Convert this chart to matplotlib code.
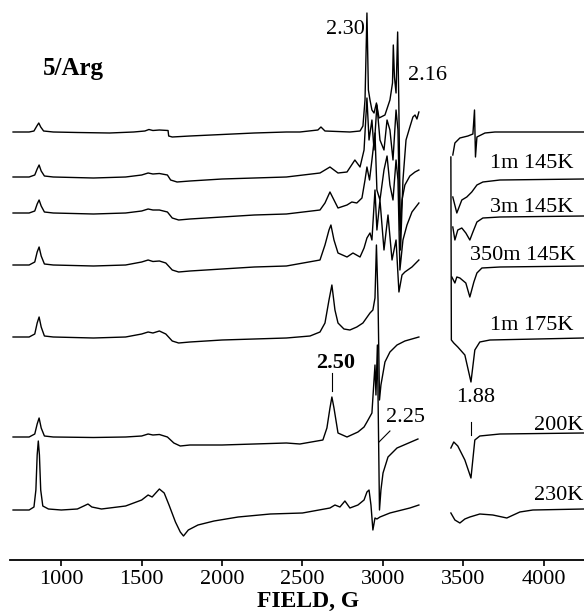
import numpy as np
import matplotlib
matplotlib.use("Agg")
import matplotlib.pyplot as plt

plt.rcParams['font.family'] = ['Liberation Serif', 'DejaVu Serif']

# EPR spectra of 5/Arg, field in G, intensity in arbitrary units (stacked)
labels = ['', '1m 145K', '3m 145K', '350m 145K', '1m 175K', '200K', '230K']
offsets = [428, 383, 347, 295, 223, 123, 50]

field_1 = [700, 800, 830, 848, 860, 872, 890, 950, 1100, 1300, 1450, 1520, 1545, 1570, 1610, 1664, 1668, 1690, 1800, 2000, 2200, 2400,
           2484, 2596, 2615, 2640, 2795, 2858, 2876, 2889, 2901, 2910, 2920, 2932, 2945, 2960, 2976, 3013, 3044, 3060, 3065, 3072, 3082,
           3092, 3099, 3110, 3125, 3144, 3168, 3187, 3200, 3212, 3224,
           3435, 3448, 3479, 3529, 3560, 3570, 3576, 3585, 3635, 3697, 4250]
inten_1 = [0, 0, 1, 6, 9, 5, 1, 0, -0.5, -1, 0, 1, 2.5, 1.5, 2, 1.5, -4, -5, -4, -2.5, -1, 0,
           0, 2, 5, 1, 0, 1, 6, 32, 119, 42, 32, 22, 19, 29, 14, 17, 32, 49, 87, 55, 39,
           100, 32, -118, -48, -8, 5, 15, 17, 13, 20,
           -23, -11, -6, -4, -2, 22, -25, -5, -1, 0, 0]

field_2 = [700, 800, 835, 850, 862, 875, 895, 950, 1200, 1400, 1500, 1540, 1570, 1610, 1660, 1680, 1720, 1800, 2000, 2200, 2400,
           2609, 2671, 2721, 2777, 2826, 2858, 2883, 2901, 2914, 2932, 2945, 2963, 2982, 3007, 3026, 3044, 3063, 3082, 3094,
           3106, 3119, 3137, 3168, 3200, 3224,
           3435, 3460, 3491, 3522, 3553, 3585, 3622, 3728, 4250]
inten_2 = [0, 0, 2, 8, 12, 6, 1, 0, -1, 0, 2, 4, 3, 3.5, 2, -3, -5, -4, -2, -1, 0,
           4, 10, 4, 5, 17, 10, 27, 79, 37, 57, 27, 72, 37, 27, 57, 47, 17, 67, 47,
           -53, -23, -8, 1, 5, 7,
           -20, -36, -23, -20, -15, -8, -5, -3, -2]

field_3 = [700, 800, 835, 850, 862, 875, 895, 950, 1200, 1400, 1500, 1540, 1570, 1610, 1660, 1690, 1730, 1800, 2000, 2200, 2400,
           2609, 2640, 2671, 2696, 2721, 2777, 2807, 2838, 2870, 2889, 2901, 2917, 2932, 2951, 2963, 2982, 3007, 3026, 3044,
           3063, 3082, 3094, 3106, 3125, 3150, 3181, 3224,
           3435, 3448, 3466, 3491, 3516, 3541, 3560, 3585, 3622, 3728, 4250]
inten_3 = [0, 0, 2, 9, 13, 7, 1, 0, -1, 0, 2, 4, 3, 3, 1, -5, -7, -6, -4, -2, -1,
           3, 10, 21, 13, 5, 8, 11, 10, 15, 33, 46, 33, 53, 80, 23, 13, 43, 57, 28,
           13, 53, 33, -57, -27, -12, 1, 10,
           -14, -27, -17, -15, -20, -27, -19, -9, -5, -4, -3]

field_4 = [700, 800, 835, 850, 862, 875, 895, 950, 1200, 1400, 1500, 1540, 1570, 1610, 1650, 1690, 1730, 1800, 2000, 2200, 2400,
           2609, 2640, 2665, 2677, 2696, 2721, 2777, 2814, 2858, 2883, 2901, 2920, 2932, 2951, 2963, 2982, 3007, 3032, 3057,
           3082, 3100, 3119, 3137, 3181, 3224,
           3429, 3448, 3460, 3479, 3516, 3541, 3566, 3585, 3616, 3728, 4250]
inten_4 = [0, 0, 3, 13, 18, 9, 1, 0, -1, 0, 3, 5, 3.5, 4, 2, -5, -7, -6, -4, -2, -1,
           5, 20, 35, 40, 25, 12, 8, 12, 8, 17, 27, 32, 25, 75, 35, 65, 15, 50, 5,
           25, -27, -10, -7, -2, 5,
           -12, -18, -12, -13, -18, -32, -17, -8, -3, -2, -1]

field_5 = [700, 800, 835, 850, 862, 875, 895, 950, 1200, 1400, 1500, 1540, 1570, 1610, 1650, 1690, 1730, 1800, 2000, 2200, 2400,
           2547, 2609, 2640, 2665, 2683, 2702, 2721, 2758, 2795, 2838, 2876, 2920, 2938, 2951, 2960, 2970, 2979, 2988, 3013,
           3044, 3088, 3137, 3224,
           3423, 3426, 3441, 3466, 3510, 3548, 3572, 3603, 3666, 4250]
inten_5 = [0, 0, 3, 14, 20, 10, 1, 0, -1, 0, 3, 5, 4, 6, 3, -4, -6, -5, -3, -2, -1,
           1, 5, 14, 37, 52, 27, 14, 8, 7, 10, 14, 24, 27, 39, 92, 37, -63, -48, -25,
           -15, -8, -4, 0,
           180, -3, -6, -10, -18, -45, -13, -5, -3, -1]

field_6 = [700, 800, 835, 850, 862, 875, 895, 950, 1200, 1400, 1500, 1540, 1570, 1610, 1660, 1700, 1740, 1800, 2000, 2200, 2400,
           2484, 2627, 2652, 2671, 2683, 2696, 2721, 2777, 2845, 2883, 2901, 2932, 2945, 2951, 2957, 2966, 2979, 2988, 3001,
           3032, 3088, 3218,
           3423, 3441, 3466, 3510, 3548, 3572, 3603, 3728, 4250]
inten_6 = [0, 0, 3, 13, 19, 9, 1, 0, -0.5, 0, 1, 3, 2, 2.5, 0, -6, -9, -8, -8, -7, -6,
           -7, -3, 9, 29, 40, 29, 4, 0, 5, 10, 15, 24, 57, 72, 42, 92, -73, -53, -36,
           -20, -11, -2,
           -11, -5, -9, -23, -41, -3, 1, 3, 4]

field_7 = [700, 800, 830, 842, 850, 857, 864, 872, 885, 920, 1000, 1100, 1140, 1166, 1190, 1250, 1400, 1500, 1540, 1565, 1610,
           1640, 1670, 1710, 1740, 1760, 1790, 1850, 1950, 2100, 2300, 2500,
           2671, 2702, 2733, 2764, 2795, 2845, 2883, 2901, 2914, 2926, 2938, 2951, 2963, 2982, 3044, 3168, 3224,
           3423, 3448, 3479, 3510, 3541, 3603, 3684, 3771, 3852, 3933, 4250]
inten_7 = [0, 0, 3, 20, 55, 69, 55, 20, 4, 1, 0, 1, 4, 6, 3, 1, 4, 10, 15, 13, 21,
           17, 5, -12, -22, -26, -20, -15, -11, -7, -4, -3,
           2, 5, 3, 9, 2, 5, 10, 18, 20, 5, -20, -8, -9, -7, -3, 2, 5,
           -3, -10, -13, -9, -7, -4, -5, -8, -2, 0, 1]

fields = [field_1, field_2, field_3, field_4, field_5, field_6, field_7]
intens = [inten_1, inten_2, inten_3, inten_4, inten_5, inten_6, inten_7]

fig = plt.figure(figsize=(5.84, 6.12), dpi=100)
ax = fig.add_axes([10 / 584, 1 - 560 / 612, 574 / 584, 560 / 612])

for f, s, off in zip(fields, intens, offsets):
    f = np.array(f, dtype=float)
    s = np.array(s, dtype=float) + off
    lo = f < 3300          # spectra are cut between 3230 and 3420 G
    ax.plot(f[lo], s[lo], color='black', lw=1.0)
    ax.plot(f[~lo], s[~lo], color='black', lw=1.0)

# sample labels at right
label_y = [None, 397, 352, 305, 235, 134, 65]
label_x = [None, 4185, 4185, 4200, 4185, 4245, 4245]
for txt, lx, ly in zip(labels, label_x, label_y):
    if txt:
        ax.text(lx, ly, txt, ha='right', va='center', fontsize=16)

# g-value annotations
ax.text(886, 492, '5/Arg', fontsize=18, fontweight='bold', va='center')
ax.text(2770, 531, '2.30', fontsize=16, ha='center', va='center')
ax.text(3276, 484, '2.16', fontsize=16, ha='center', va='center')
ax.text(2708, 197, '2.50', fontsize=16, fontweight='bold', ha='center', va='center')
ax.plot([2683, 2683], [169, 187], color='black', lw=0.8)
ax.text(3141, 143, '2.25', fontsize=16, ha='center', va='center')
ax.plot([2976, 3044], [118, 129], color='black', lw=0.8)
ax.text(3579, 162, '1.88', fontsize=16, ha='center', va='center')
ax.plot([3548, 3548], [125, 138], color='black', lw=0.8)

ax.set_xlim(681, 4251)
ax.set_ylim(0, 560)
ax.set_xticks([1000, 1500, 2000, 2500, 3000, 3500, 4000])
ax.set_yticks([])
for side in ['left', 'right', 'top']:
    ax.spines[side].set_visible(False)
ax.spines['bottom'].set_linewidth(1.3)
ax.tick_params(axis='x', direction='out', length=4, width=1.2, labelsize=16, pad=3)
ax.set_xlabel('FIELD, G', fontsize=17, fontweight='bold', labelpad=0)
ax.xaxis.set_label_coords(0.52, -0.056)
ax.patch.set_visible(False)

fig.savefig('out.png', dpi=100)
